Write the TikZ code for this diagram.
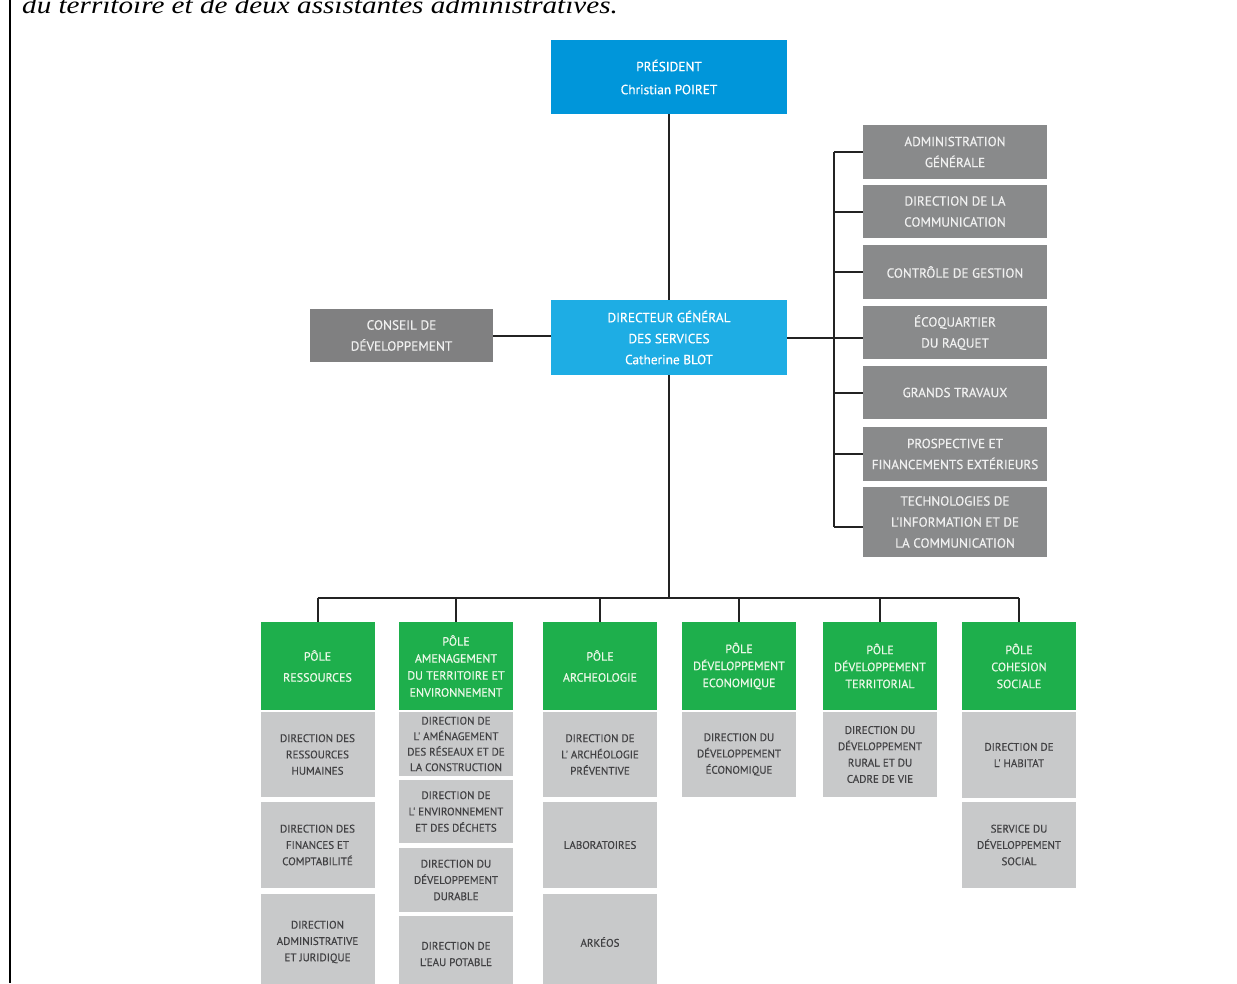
\documentclass[tikz,border=0pt]{standalone}
\usepackage{fontspec}
\usepackage{graphicx}
\setmainfont{Liberation Serif}
\newfontfamily\boxfont[FakeBold=0.5]{PT Sans}
\definecolor{presblue}{RGB}{0,150,218}
\definecolor{dgblue}{RGB}{30,173,228}
\definecolor{darkgray}{RGB}{128,128,129}
\definecolor{midgray}{RGB}{137,138,139}
\definecolor{polegreen}{RGB}{30,175,76}
\definecolor{subgray}{RGB}{200,201,202}
\definecolor{subtext}{RGB}{65,65,67}
\definecolor{linecol}{RGB}{35,35,35}
\definecolor{lighttext}{RGB}{240,240,240}
\definecolor{poletext}{RGB}{236,248,232}
\begin{document}
\begin{tikzpicture}[x=1pt,y=-1pt,
  base/.style={rectangle, inner sep=0pt, align=center, anchor=center},
  presbox/.style={base, fill=presblue, text=white, font=\boxfont\fontsize{13.3}{23}\selectfont},
  dgbox/.style={base, fill=dgblue, text=white, font=\boxfont\fontsize{13.3}{21}\selectfont},
  darkbox/.style={base, fill=darkgray, text=lighttext, font=\boxfont\fontsize{13.3}{21}\selectfont},
  rightbox/.style={base, fill=midgray, text=lighttext, minimum width=184, font=\boxfont\fontsize{13.2}{21}\selectfont},
  polebox/.style={base, fill=polegreen, text=poletext, minimum width=114, minimum height=88, font=\boxfont\fontsize{12}{17}\selectfont},
  subbox/.style={base, fill=subgray, text=subtext, minimum width=114, font=\boxfont\fontsize{11}{16.3}\selectfont},
  conn/.style={draw=linecol, line width=2pt}
]
\useasboundingbox (0,0) rectangle (1237,983);
\fill[white] (0,0) rectangle (1237,983);
% page border and intro text
\draw[line width=2.5pt, black] (10,0) -- (10,983);
\node[anchor=base west, inner sep=0pt] (intro) at (22,13) {\scalebox{1.19}[1]{\fontsize{24.5}{28}\selectfont\itshape du territoire et de deux assistantes administratives.}};

% top
\node[presbox, minimum width=236, minimum height=74] (pres) at (669,77) {PRÉSIDENT\\Christian POIRET};
\node[dgbox, minimum width=236, minimum height=75] (dg) at (669,337.5) {DIRECTEUR GÉNÉRAL\\DES SERVICES\\Catherine BLOT};
\node[darkbox, minimum width=183, minimum height=53] (conseil) at (401.5,335.5) {CONSEIL DE\\DÉVELOPPEMENT};

% right column
\node[rightbox, minimum height=54] (r1) at (955,152) {ADMINISTRATION\\GÉNÉRALE};
\node[rightbox, minimum height=53] (r2) at (955,211.5) {DIRECTION DE LA\\COMMUNICATION};
\node[rightbox, minimum height=54] (r3) at (955,272) {CONTRÔLE DE GESTION};
\node[rightbox, minimum height=53] (r4) at (955,332.5) {ÉCOQUARTIER\\DU RAQUET};
\node[rightbox, minimum height=53] (r5) at (955,392.5) {GRANDS TRAVAUX};
\node[rightbox, minimum height=54] (r6) at (955,454) {PROSPECTIVE ET\\FINANCEMENTS EXTÉRIEURS};
\node[rightbox, minimum height=70] (r7) at (955,522) {TECHNOLOGIES DE\\L'INFORMATION ET DE\\LA COMMUNICATION};

% poles
\node[polebox] (p1) at (317.5,666) {PÔLE\\[4pt]RESSOURCES};
\node[polebox] (p2) at (456,666) {PÔLE\\AMENAGEMENT\\DU TERRITOIRE ET\\ENVIRONNEMENT};
\node[polebox] (p3) at (600,666) {PÔLE\\[4pt]ARCHEOLOGIE};
\node[polebox] (p4) at (739,666) {PÔLE\\DÉVELOPPEMENT\\ECONOMIQUE};
\node[polebox] (p5) at (880,666) {PÔLE\\DÉVELOPPEMENT\\TERRITORIAL};
\node[polebox] (p6) at (1019,666) {PÔLE\\COHESION\\SOCIALE};

% sub boxes
\node[subbox, minimum height=85] (s11) at (317.5,754.5) {DIRECTION DES\\RESSOURCES\\HUMAINES};
\node[subbox, minimum height=86] (s12) at (317.5,845) {DIRECTION DES\\FINANCES ET\\COMPTABILITÉ};
\node[subbox, minimum height=96] (s13) at (317.5,942) {DIRECTION\\ADMINISTRATIVE\\ET JURIDIQUE};

\node[subbox, minimum height=64, font=\boxfont\fontsize{11}{15.5}\selectfont] (s21) at (456,744) {DIRECTION DE\\L' AMÉNAGEMENT\\DES RÉSEAUX ET DE\\LA CONSTRUCTION};
\node[subbox, minimum height=63] (s22) at (456,811.5) {DIRECTION DE\\L' ENVIRONNEMENT\\ET DES DÉCHETS};
\node[subbox, minimum height=64] (s23) at (456,880) {DIRECTION DU\\DÉVELOPPEMENT\\DURABLE};
\node[subbox, minimum height=76] (s24) at (456,954) {DIRECTION DE\\L'EAU POTABLE};

\node[subbox, minimum height=85] (s31) at (600,754.5) {DIRECTION DE\\L' ARCHÉOLOGIE\\PRÉVENTIVE};
\node[subbox, minimum height=86] (s32) at (600,845) {LABORATOIRES};
\node[subbox, minimum height=96] (s33) at (600,942) {ARKÉOS};

\node[subbox, minimum height=85] (s41) at (739,754.5) {DIRECTION DU\\DÉVELOPPEMENT\\ÉCONOMIQUE};
\node[subbox, minimum height=85] (s51) at (880,754.5) {DIRECTION DU\\DÉVELOPPEMENT\\RURAL ET DU\\CADRE DE VIE};
\node[subbox, minimum height=86] (s61) at (1019,755) {DIRECTION DE\\L' HABITAT};
\node[subbox, minimum height=86] (s62) at (1019,845) {SERVICE DU\\DÉVELOPPEMENT\\SOCIAL};

% connectors
\coordinate (busx) at (834,0);
\coordinate (poleBus) at (669,598);
\draw[conn] (pres.south) -- (dg.north);
\draw[conn] (conseil.east) -- (conseil.east -| dg.west);
\draw[conn] (dg.east) -- (dg.east -| r4.west);
\draw[conn] (r1.west -| busx) -- ([yshift=-5pt]r7.west -| busx);
\foreach \r in {r1,r2,r3,r5,r6}{
  \draw[conn] (\r.west -| busx) -- (\r.west);
}
\draw[conn] ([yshift=-5pt]r7.west -| busx) -- ([yshift=-5pt]r7.west);
\draw[conn] (dg.south) -- (poleBus);
\draw[conn] (poleBus -| p1.north) -- (poleBus -| p6.north);
\foreach \p in {p1,p2,p3,p4,p5,p6}{
  \draw[conn] (poleBus -| \p.north) -- (\p.north);
}
\end{tikzpicture}
\end{document}
